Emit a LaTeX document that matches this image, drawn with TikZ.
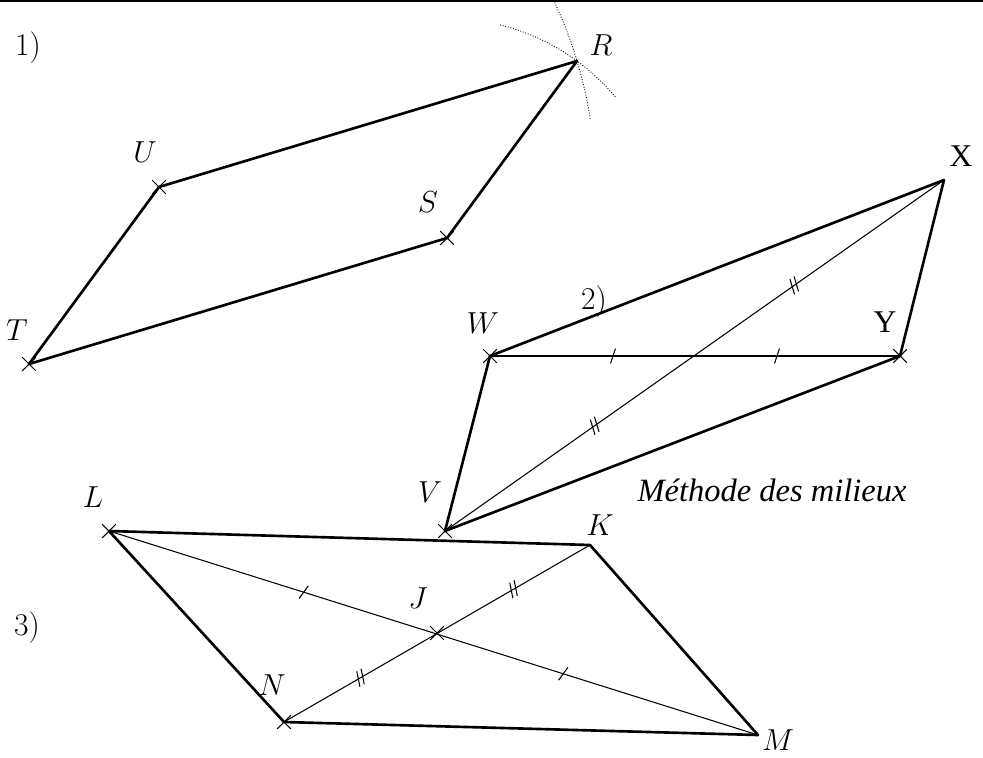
\documentclass[tikz,border=0pt]{standalone}
\usepackage{fontspec}
\newfontfamily\timesfont{Liberation Serif}
\newfontfamily\timesit{Liberation Serif Italic}
\usetikzlibrary{shapes.misc,decorations.markings}
\tikzset{
  cote/.style={line width=1.5pt, line join=round},
  diag/.style={line width=0.6pt},
  croix/.style={cross out, draw, line width=0.6pt, minimum size=0.25cm, inner sep=0pt},
  lbl/.style={font=\fontsize{18}{22}\selectfont},
  lbltimes/.style={font=\timesfont\fontsize{18}{22}\selectfont},
  compas/.style={densely dotted, line width=0.5pt},
  untrait/.style={postaction={decorate}, decoration={markings,
    mark=at position 0.3 with {\draw[diag] (-0.05cm,-0.15cm) -- (0.05cm,0.15cm);},
    mark=at position 0.7 with {\draw[diag] (-0.05cm,-0.15cm) -- (0.05cm,0.15cm);}}},
  deuxtraits/.style={postaction={decorate}, decoration={markings,
    mark=at position #1 with {\draw[diag] (-0.1cm,-0.15cm) -- (0cm,0.15cm) (0cm,-0.15cm) -- (0.1cm,0.15cm);},
    mark=at position 1-#1 with {\draw[diag] (-0.1cm,-0.15cm) -- (0cm,0.15cm) (0cm,-0.15cm) -- (0.1cm,0.15cm);}}}
}

\begin{document}
\begin{tikzpicture}[x=0.02cm, y=-0.02cm]
    \useasboundingbox (0,0) rectangle (983,757);
    \draw[line width=1.6pt] (0,1) -- (983,1);

    % 1) TUSR, R construit au compas
    \coordinate (T) at (29,364);
    \coordinate (U) at (159,187);
    \coordinate (S) at (447,238);
    \coordinate (R) at (577,61);
    \draw[cote] (T) -- (U) -- (R) -- (S) -- cycle;
    \draw[compas] (S) ++(-40:219.6) arc[start angle=-40, end angle=-76, radius=219.6];
    \draw[compas] (U) ++(-9:436.6) arc[start angle=-9, end angle=-25, radius=436.6];
    \foreach \p in {T,U,S} \node[croix] at (\p) {};
    \node[lbl] (nom1) at (28,48) {1)};
    \node[lbl] (nomR) at (601,45) {$R$};
    \node[lbl] (nomU) at (145,152) {$U$};
    \node[lbl] (nomS) at (428,202) {$S$};
    \node[lbl] (nomT) at (17,330) {$T$};

    % 2) VWXY, methode des milieux
    \coordinate (V) at (445,531);
    \coordinate (W) at (490,356);
    \coordinate (X) at (944,180);
    \coordinate (Y) at (900,356);
    \draw[cote] (V) -- (W) -- (X) -- (Y) -- cycle;
    \draw[diag, untrait] (W) -- (Y);
    \draw[diag, deuxtraits=0.3] (V) -- (X);
    \foreach \p in {V,W,Y} \node[croix] at (\p) {};
    \node[lbl] (nom2) at (594,302) {2)};
    \node[lbl] (nomW) at (483,323) {$W$};
    \node[lbl] (nomV) at (430,492) {$V$};
    \node[lbltimes] (nomX) at (961,156) {X};
    \node[lbltimes] (nomY) at (885,322) {Y};
    \node[font=\timesit\fontsize{18.5}{22}\selectfont] (methode) at (772,490) {Méthode des milieux};

    % 3) LKMN, diagonales en J
    \coordinate (L) at (109,531);
    \coordinate (K) at (590,545);
    \coordinate (M) at (758,735);
    \coordinate (N) at (284,722);
    \coordinate (J) at (437,633);
    \draw[cote] (L) -- (K) -- (M) -- (N) -- cycle;
    \draw[diag, untrait] (L) -- (M);
    \draw[diag, deuxtraits=0.25] (N) -- (K);
    \foreach \p in {L,N,J} \node[croix] at (\p) {};
    \node[lbl] (nom3) at (27,628) {3)};
    \node[lbl] (nomL) at (93,497) {$L$};
    \node[lbl] (nomK) at (600,525) {$K$};
    \node[lbl] (nomJ) at (418,598) {$J$};
    \node[lbl] (nomN) at (272,685) {$N$};
    \node[lbl] (nomM) at (778,740) {$M$};
\end{tikzpicture}
\end{document}
